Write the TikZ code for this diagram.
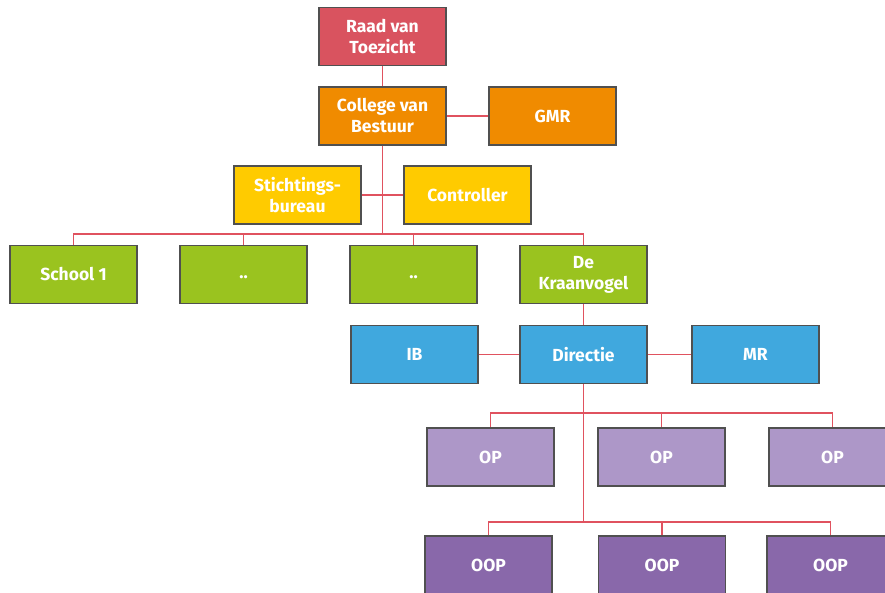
\documentclass[tikz,border=0pt]{standalone}
\usepackage{fontspec}
\setmainfont{Fira Sans}
\definecolor{cRed}{HTML}{D9535F}
\definecolor{cOrange}{HTML}{F08B00}
\definecolor{cYellow}{HTML}{FFCB00}
\definecolor{cGreen}{HTML}{9AC31F}
\definecolor{cBlue}{HTML}{40A8DE}
\definecolor{cLilac}{HTML}{AD97C8}
\definecolor{cPurple}{HTML}{8968AA}
\definecolor{cLine}{HTML}{E0525F}
\definecolor{cBorder}{HTML}{505050}
\tikzset{
  box/.style={rectangle, draw=cBorder, line width=1.6pt, minimum width=127pt, minimum height=58pt,
    inner sep=2pt, align=center, text=white, font=\fontsize{17.5}{21}\selectfont\bfseries},
  link/.style={draw=cLine, line width=1.5pt}
}
\begin{document}
\begin{tikzpicture}[x=1pt,y=-1pt]
\useasboundingbox (0,0) rectangle (885,593);
\clip (0,0) rectangle (885,593);
% nodes
\node[box, fill=cRed] (rvt) at (382.5,36.5) {Raad van\\Toezicht};
\node[box, fill=cOrange] (cvb) at (382.5,116) {College van\\Bestuur};
\node[box, fill=cOrange] (gmr) at (552.5,116) {GMR};
\node[box, fill=cYellow] (sb) at (297.5,195) {Stichtings-\\bureau};
\node[box, fill=cYellow] (ctrl) at (467.5,195) {Controller};
\node[box, fill=cGreen] (s1) at (73.5,274.5) {School 1};
\node[box, fill=cGreen] (s2) at (243.5,274.5) {\vphantom{Sg}..};
\node[box, fill=cGreen] (s3) at (413.5,274.5) {\vphantom{Sg}..};
\node[box, fill=cGreen] (kv) at (583.5,274.5) {De\\Kraanvogel};
\node[box, fill=cBlue] (ib) at (414.5,354.5) {IB};
\node[box, fill=cBlue] (dir) at (583.5,354.5) {Directie};
\node[box, fill=cBlue] (mr) at (755.5,354.5) {MR};
\node[box, fill=cLilac] (op1) at (490.5,457) {OP};
\node[box, fill=cLilac] (op2) at (661.5,457) {OP};
\node[box, fill=cLilac] (op3) at (832.5,457) {OP};
\node[box, fill=cPurple] (oop1) at (488.5,565) {OOP};
\node[box, fill=cPurple] (oop2) at (662,565) {OOP};
\node[box, fill=cPurple] (oop3) at (830.5,565) {OOP};
% bus coordinates
\coordinate (busA) at (382.5,234);
\coordinate (busB) at (583.5,413);
\coordinate (busC) at (583.5,522);
% connectors
\path[link] (rvt) -- (cvb);
\path[link] (cvb) -- (gmr);
\path[link] (sb) -- (ctrl);
\path[link] (cvb.south) -- (busA);
\path[link] (s1.north) |- (busA) -| (kv.north);
\path[link] (s2.north) -- (s2.north |- busA);
\path[link] (s3.north) -- (s3.north |- busA);
\path[link] (kv) -- (dir);
\path[link] (ib) -- (dir);
\path[link] (dir) -- (mr);
\path[link] (dir.south) -- (busC);
\path[link] (op1.north) |- (busB) -| (op3.north);
\path[link] (op2.north) -- (op2.north |- busB);
\path[link] (oop1.north) |- (busC) -| (oop3.north);
\path[link] (oop2.north) -- (oop2.north |- busC);
\end{tikzpicture}
\end{document}
